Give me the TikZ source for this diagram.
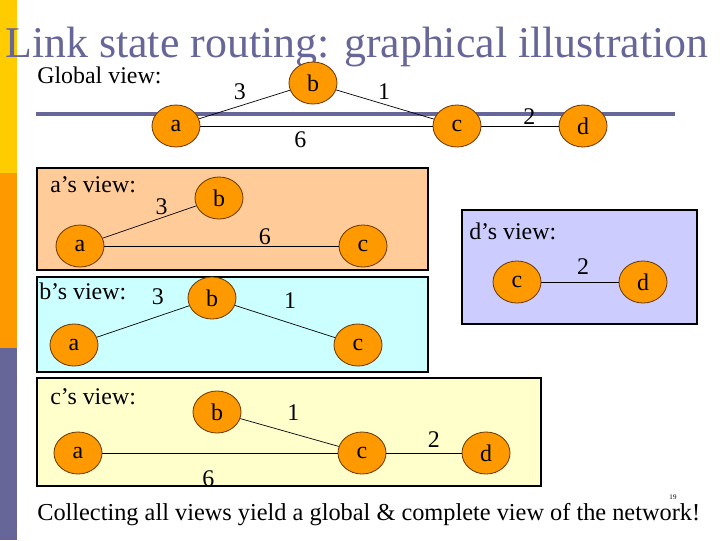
\documentclass[tikz,border=0pt]{standalone}
\usepackage{fontspec}
\setmainfont{Liberation Serif}
\usetikzlibrary{shapes.geometric}

\definecolor{slateBlue}{RGB}{102,102,153}
\definecolor{barYellow}{RGB}{255,204,0}
\definecolor{barOrange}{RGB}{255,153,0}
\definecolor{routerFill}{RGB}{255,153,0}
\definecolor{routerEdge}{RGB}{110,60,10}
\definecolor{peachFill}{RGB}{255,204,153}
\definecolor{cyanFill}{RGB}{204,255,255}
\definecolor{lilacFill}{RGB}{204,204,255}
\definecolor{creamFill}{RGB}{255,255,204}

\begin{document}
\begin{tikzpicture}[
  x=0.025cm, y=-0.025cm,
  font=\fontsize{17}{20}\selectfont,
  router/.style={
    ellipse, draw=routerEdge, line width=0.6pt, fill=routerFill,
    minimum width=1.2cm, minimum height=1.05cm, inner sep=0pt
  },
  link/.style={draw=black, line width=0.5pt},
  cost/.style={inner sep=0pt},
  view/.style={draw=black, line width=0.8pt},
  viewA/.style={view, fill=peachFill},
  viewB/.style={view, fill=cyanFill},
  viewC/.style={view, fill=creamFill},
  viewD/.style={view, fill=lilacFill},
  caption/.style={anchor=base west, inner sep=0pt}
]

\fill[white] (0,0) rectangle (720,540);
\fill[barYellow] (0,0) rectangle (17,173);
\fill[barOrange] (0,173) rectangle (17,348);
\fill[slateBlue] (0,348) rectangle (17,540);

\node[caption, text=slateBlue, font=\fontsize{31.2}{34}\selectfont] (title) at (5,57)
  {Link state routing: graphical illustration};
\node[caption] (global) at (37,83) {Global view:};
\draw[slateBlue, line width=2.2pt] (36,114) -- (675,114);

\node[router] (ga) at (176,126) {a};
\node[router] (gb) at (313,83) {b};
\node[router] (gc) at (457,126) {c};
\node[router] (gd) at (583,126) {d};

\draw[link] (ga) -- (gb) node[cost, pos=0.45, above=4pt] {3};
\draw[link] (gb) -- (gc) node[cost, pos=0.49, above=3pt] {1};
\draw[link] (ga) -- (gc) node[cost, pos=0.43, below=4pt] {6};
\draw[link] (gc) -- (gd) node[cost, pos=0.62, above=1pt] {2};

\draw[viewA] (37,168) rectangle (428,270);
\node[caption] (aview) at (50,192) {a’s view:};
\node[router] (aa) at (80,246) {a};
\node[router] (ab) at (219,198) {b};
\node[router] (ac) at (363,246) {c};
\draw[link] (aa) -- (ab) node[cost, pos=0.63, above=2pt] {3};
\draw[link] (aa) -- (ac) node[cost, pos=0.685, above=1pt] {6};

\draw[viewB] (37,277) rectangle (428,372);
\node[caption] (bview) at (39,299) {b’s view:};
\node[router] (ba) at (74,345) {a};
\node[router] (bb) at (212,298) {b};
\node[router] (bc) at (358,345) {c};
\draw[link] (ba) -- (bb) node[cost, pos=0.66, above=8pt] {3};
\draw[link] (bb) -- (bc) node[cost, pos=0.55, above=10.5pt] {1};

\draw[viewD] (462,210) rectangle (697,324);
\node[caption] (dview) at (469,239) {d’s view:};
\node[router] (dc) at (517,282) {c};
\node[router] (dd) at (643,282) {d};
\draw[link] (dc) -- (dd) node[cost, pos=0.54, above=5pt] {2};

\draw[viewC] (37,378) rectangle (541,486);
\node[caption] (cview) at (50,404) {c’s view:};
\node[router] (ca) at (78,453) {a};
\node[router] (cb) at (217,412) {b};
\node[router] (cc) at (362,453) {c};
\node[router] (cd) at (486,453) {d};
\draw[link] (cb) -- (cc) node[cost, pos=0.54, above=9pt] {1};
\draw[link] (cc) -- (cd) node[cost, pos=0.63, above=3.5pt] {2};
\draw[link] (ca) -- (cc) node[cost, pos=0.45, below=12pt] {6};

\node[caption, font=\fontsize{17.3}{20}\selectfont] (summary) at (37,520)
  {Collecting all views yield a global \& complete view of the network!};
\node[inner sep=0pt, font=\fontsize{5}{6}\selectfont] (slideno) at (673,497) {19};
\end{tikzpicture}
\end{document}
